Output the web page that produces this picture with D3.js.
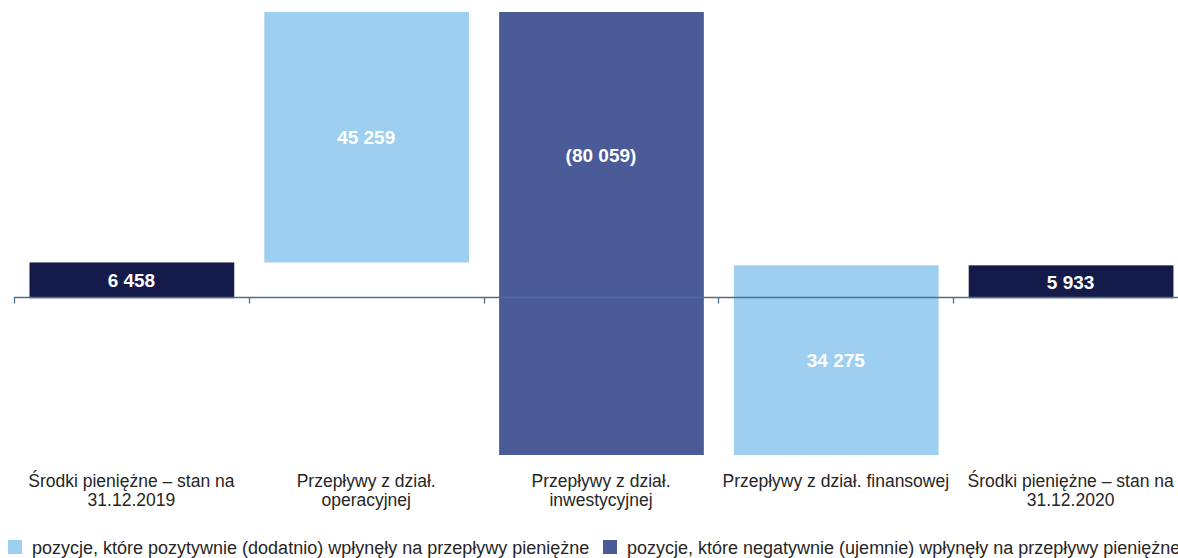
<!DOCTYPE html>
<html>
<head>
<meta charset="utf-8">
<script src="https://cdn.jsdelivr.net/npm/d3@7"></script>
<style>
  body { margin: 0; background: #fff; overflow: hidden; }
  svg { display: block; font-family: Arial, "Liberation Sans", sans-serif; }
</style>
</head>
<body>
<svg id="chart"></svg>
<script>
const categories = [
    ['Środki pieniężne – stan na', '31.12.2019'],
    ['Przepływy z dział.', 'operacyjnej'],
    ['Przepływy z dział.', 'inwestycyjnej'],
    ['Przepływy z dział. finansowej'],
    ['Środki pieniężne – stan na', '31.12.2020']
];
const values = [6458, 45259, -80059, 34275, 5933];
const kinds = ['total', 'pos', 'neg', 'pos', 'total'];
const valueLabels = ['6 458', '45 259', '(80 059)', '34 275', '5 933'];
const legendLabels = [
    'pozycje, które pozytywnie (dodatnio) wpłynęły na przepływy pieniężne',
    'pozycje, które negatywnie (ujemnie) wpłynęły na przepływy pieniężne'
];

const width = 1178;
const height = 558;

const colorMap = {
    total: '#141b4b',
    pos: '#9dcff1',
    neg: '#4a5b98'
};

// waterfall steps
let running = 0;
const steps = values.map((v, i) => {
    let lo, hi;
    if (kinds[i] === 'total') {
        lo = 0; hi = v; running = v;
    } else {
        const start = running;
        running += v;
        lo = Math.min(start, running);
        hi = Math.max(start, running);
    }
    return { i, lo, hi, kind: kinds[i], label: valueLabels[i] };
});

const svg = d3.select('#chart')
    .attr('width', width)
    .attr('height', height);

const x = d3.scaleBand()
    .domain(d3.range(categories.length))
    .range([14, 1188])
    .padding(0);

const y = d3.scaleLinear()
    .domain([d3.min(steps, d => d.lo), d3.max(steps, d => d.hi)])
    .range([455, 12]);

const bw = x.bandwidth();
const barW = bw * 0.872;
const barOff = bw * 0.066;

svg.selectAll('.bar')
    .data(steps)
    .enter()
    .append('rect')
    .attr('class', 'bar')
    .attr('x', d => x(d.i) + barOff)
    .attr('width', barW)
    .attr('y', d => y(d.hi))
    .attr('height', d => y(d.lo) - y(d.hi))
    .attr('fill', d => colorMap[d.kind]);

// axis line at zero with ticks between categories
const y0 = Math.round(y(0)) - 0.5;
const axis = svg.append('g');
axis.append('line')
    .attr('x1', x.range()[0]).attr('x2', x.range()[1])
    .attr('y1', y0).attr('y2', y0)
    .attr('stroke', '#4f6f87')
    .attr('stroke-width', 1.3);
axis.selectAll('.tick')
    .data(d3.range(categories.length + 1))
    .enter()
    .append('line')
    .attr('x1', i => Math.round(x.range()[0] + i * bw) + 0.5)
    .attr('x2', i => Math.round(x.range()[0] + i * bw) + 0.5)
    .attr('y1', y0)
    .attr('y2', y0 + 6)
    .attr('stroke', '#4f6f87')
    .attr('stroke-width', 1.3);

// value labels
svg.selectAll('.vlabel')
    .data(steps)
    .enter()
    .append('text')
    .attr('class', 'vlabel')
    .attr('x', d => x(d.i) + bw / 2)
    .attr('y', d => {
        // negative bar: label sits in the part above zero
        const lo = d.kind === 'neg' ? Math.max(d.lo, 0) : d.lo;
        return y((lo + d.hi) / 2);
    })
    .attr('dy', '0.36em')
    .attr('text-anchor', 'middle')
    .style('font-size', '19px')
    .style('font-weight', 'bold')
    .style('fill', '#fff')
    .text(d => d.label);

// category labels
const cat = svg.selectAll('.cat')
    .data(categories)
    .enter()
    .append('text')
    .attr('class', 'cat')
    .attr('x', (d, i) => x(i) + bw / 2)
    .attr('y', 487)
    .attr('text-anchor', 'middle')
    .style('font-size', '17.5px')
    .style('fill', '#262626');
cat.selectAll('tspan')
    .data(d => d)
    .enter()
    .append('tspan')
    .attr('x', function () { return d3.select(this.parentNode).attr('x'); })
    .attr('dy', (d, j) => j === 0 ? 0 : 19)
    .text(d => d);

// legend
const legendX = [8, 603];
const legendKinds = ['pos', 'neg'];
const lg = svg.selectAll('.legend')
    .data(legendLabels)
    .enter()
    .append('g')
    .attr('class', 'legend')
    .attr('transform', (d, i) => `translate(${legendX[i]}, 540)`);
lg.append('rect')
    .attr('width', 14)
    .attr('height', 14)
    .attr('fill', (d, i) => colorMap[legendKinds[i]]);
lg.append('text')
    .attr('x', 24)
    .attr('y', 14)
    .style('font-size', '18px')
    .style('fill', '#262626')
    .text(d => d);
</script>
</body>
</html>
